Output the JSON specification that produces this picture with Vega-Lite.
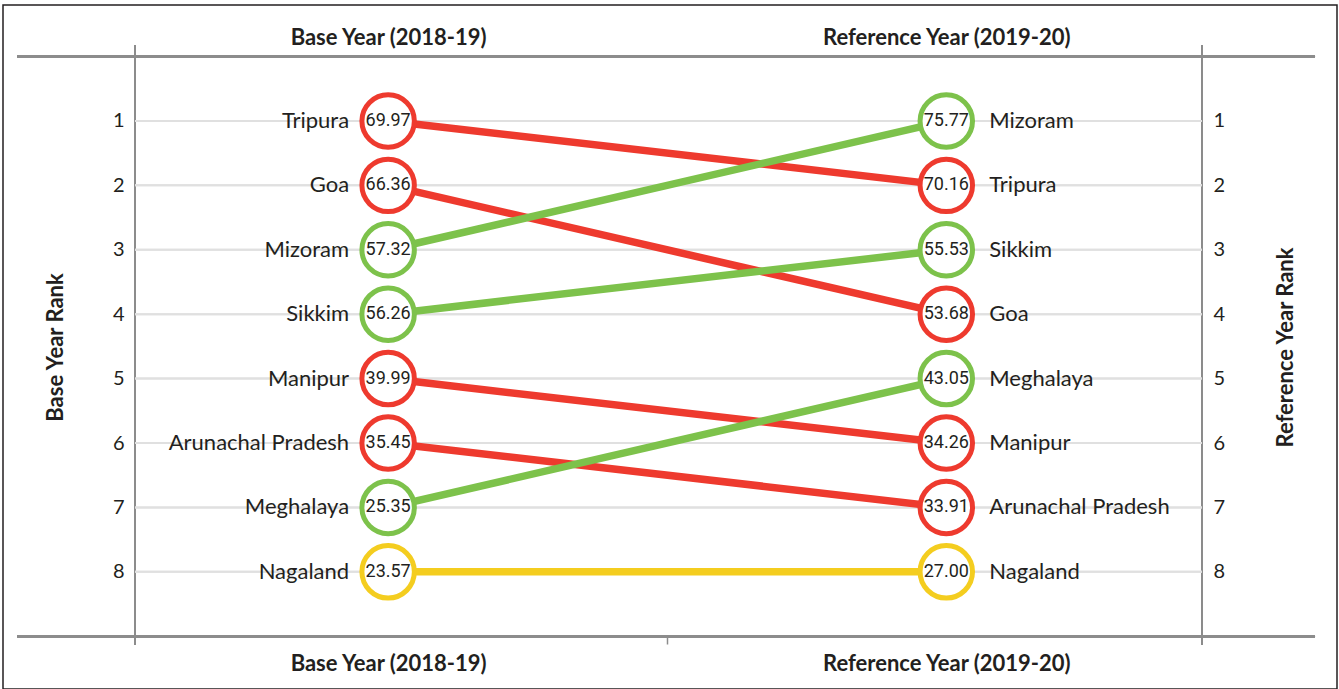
{
  "$schema": "https://vega.github.io/schema/vega-lite/v6.json",
  "width": 1334,
  "height": 684,
  "autosize": "none",
  "padding": {"left": 3, "top": 5, "right": 2, "bottom": 0},
  "background": "white",
  "config": {
    "view": {"stroke": "#231f20", "strokeWidth": 1.5},
    "font": "Lato"
  },
  "data": {
    "values": [
      {"state": "Tripura", "year": 2018, "rank": 1, "score": 69.97, "trend": "Declined"},
      {"state": "Goa", "year": 2018, "rank": 2, "score": 66.36, "trend": "Declined"},
      {"state": "Mizoram", "year": 2018, "rank": 3, "score": 57.32, "trend": "Improved"},
      {"state": "Sikkim", "year": 2018, "rank": 4, "score": 56.26, "trend": "Improved"},
      {"state": "Manipur", "year": 2018, "rank": 5, "score": 39.99, "trend": "Declined"},
      {"state": "Arunachal Pradesh", "year": 2018, "rank": 6, "score": 35.45, "trend": "Declined"},
      {"state": "Meghalaya", "year": 2018, "rank": 7, "score": 25.35, "trend": "Improved"},
      {"state": "Nagaland", "year": 2018, "rank": 8, "score": 23.57, "trend": "Unchanged"},
      {"state": "Mizoram", "year": 2019, "rank": 1, "score": 75.77, "trend": "Improved"},
      {"state": "Tripura", "year": 2019, "rank": 2, "score": 70.16, "trend": "Declined"},
      {"state": "Sikkim", "year": 2019, "rank": 3, "score": 55.53, "trend": "Improved"},
      {"state": "Goa", "year": 2019, "rank": 4, "score": 53.68, "trend": "Declined"},
      {"state": "Meghalaya", "year": 2019, "rank": 5, "score": 43.05, "trend": "Improved"},
      {"state": "Manipur", "year": 2019, "rank": 6, "score": 34.26, "trend": "Declined"},
      {"state": "Arunachal Pradesh", "year": 2019, "rank": 7, "score": 33.91, "trend": "Declined"},
      {"state": "Nagaland", "year": 2019, "rank": 8, "score": 27.00, "trend": "Unchanged"}
    ]
  },
  "resolve": {"axis": {"x": "independent", "y": "independent"}},
  "layer": [
    {
      "mark": {"type": "rule", "color": "#8c8c8c", "strokeWidth": 2},
      "encoding": {
        "x": {"datum": 2017.3351, "type": "quantitative", "scale": {"domain": [2017.31, 2019.70], "nice": false, "zero": false}, "axis": null},
        "x2": {"datum": 2019.6606},
        "y": {"datum": 0, "type": "quantitative", "scale": {"domain": [-0.8, 9.819], "reverse": true, "nice": false, "zero": false}, "axis": null}
      }
    },
    {
      "mark": {"type": "rule", "color": "#8c8c8c", "strokeWidth": 2},
      "encoding": {
        "x": {"datum": 2017.3351, "type": "quantitative", "scale": {"domain": [2017.31, 2019.70], "nice": false, "zero": false}, "axis": null},
        "x2": {"datum": 2019.6606},
        "y": {"datum": 9, "type": "quantitative", "scale": {"domain": [-0.8, 9.819], "reverse": true, "nice": false, "zero": false}, "axis": null}
      }
    },
    {
      "mark": {"type": "rule", "color": "#8c8c8c", "strokeWidth": 1.5},
      "encoding": {
        "x": {"datum": 2017.5465, "type": "quantitative", "scale": {"domain": [2017.31, 2019.70], "nice": false, "zero": false}, "axis": null},
        "y": {"datum": -0.179, "type": "quantitative", "scale": {"domain": [-0.8, 9.819], "reverse": true, "nice": false, "zero": false}, "axis": null},
        "y2": {"datum": 9.136}
      }
    },
    {
      "mark": {"type": "rule", "color": "#8c8c8c", "strokeWidth": 1.5},
      "encoding": {
        "x": {"datum": 2019.4581, "type": "quantitative", "scale": {"domain": [2017.31, 2019.70], "nice": false, "zero": false}, "axis": null},
        "y": {"datum": -0.179, "type": "quantitative", "scale": {"domain": [-0.8, 9.819], "reverse": true, "nice": false, "zero": false}, "axis": null},
        "y2": {"datum": 9.136}
      }
    },
    {
      "mark": {"type": "rule", "color": "#e0e0e0", "strokeWidth": 2},
      "encoding": {
        "x": {"datum": 2017.5465, "type": "quantitative", "scale": {"domain": [2017.31, 2019.70], "nice": false, "zero": false}, "axis": null},
        "x2": {"datum": 2019.4581},
        "y": {"field": "rank", "type": "quantitative", "scale": {"domain": [-0.8, 9.819], "reverse": true, "nice": false, "zero": false}, "axis": null}
      }
    },
    {
      "mark": {"type": "line", "strokeWidth": 7.5},
      "encoding": {
        "x": {
          "field": "year", "type": "quantitative",
          "scale": {"domain": [2017.31, 2019.70], "nice": false, "zero": false},
          "axis": {
            "orient": "bottom", "offset": -53, "values": [2018, 2018.5, 2019],
            "labelExpr": "datum.value == 2018 ? 'Base Year (2018-19)' : datum.value == 2019 ? 'Reference Year (2019-20)' : ''",
            "domain": false, "grid": false, "ticks": true, "tickSize": 8, "tickColor": "#8c8c8c", "tickWidth": 1.5,
            "tickOpacity": {"condition": {"test": "datum.value == 2018 || datum.value == 2019", "value": 0}, "value": 1},
            "labelFont": "Lato", "labelFontWeight": "bold", "labelFontSize": 22, "labelColor": "#231f20",
            "labelPadding": 9, "labelLimit": 0, "labelFlush": false, "labelOverlap": false, "title": null
          }
        },
        "y": {
          "field": "rank", "type": "quantitative",
          "scale": {"domain": [-0.8, 9.819], "reverse": true, "nice": false, "zero": false},
          "axis": {
            "orient": "left", "offset": -132, "values": [1, 2, 3, 4, 5, 6, 7, 8],
            "domain": false, "grid": false, "ticks": false, "labelPadding": 11,
            "labelFont": "Lato", "labelFontSize": 20, "labelColor": "#231f20",
            "title": "Base Year Rank", "titleFont": "Lato", "titleFontWeight": "bold", "titleFontSize": 22, "titleColor": "#231f20",
            "titleAngle": -90, "titleX": -80, "titleY": 342, "titleAlign": "center", "titleBaseline": "middle"
          }
        },
        "detail": {"field": "state"},
        "color": {"field": "trend", "type": "nominal", "scale": {"domain": ["Improved", "Declined", "Unchanged"], "range": ["#7dc24b", "#ee3a2e", "#f4cd1f"]}, "legend": null}
      }
    },
    {
      "mark": {"type": "point", "shape": "circle", "filled": false, "fill": "white", "fillOpacity": 1, "strokeWidth": 5, "size": 2750, "opacity": 1},
      "encoding": {
        "x": {
          "field": "year", "type": "quantitative",
          "scale": {"domain": [2017.31, 2019.70], "nice": false, "zero": false},
          "axis": {
            "orient": "top", "offset": -52, "values": [2018, 2019],
            "labelExpr": "datum.value == 2018 ? 'Base Year (2018-19)' : 'Reference Year (2019-20)'",
            "domain": false, "grid": false, "ticks": false,
            "labelFont": "Lato", "labelFontWeight": "bold", "labelFontSize": 22, "labelColor": "#231f20",
            "labelPadding": 8, "labelLimit": 0, "labelFlush": false, "labelOverlap": false, "title": null
          }
        },
        "y": {
          "field": "rank", "type": "quantitative",
          "scale": {"domain": [-0.8, 9.819], "reverse": true, "nice": false, "zero": false},
          "axis": {
            "orient": "right", "offset": -135, "values": [1, 2, 3, 4, 5, 6, 7, 8],
            "domain": false, "grid": false, "ticks": false, "labelPadding": 11,
            "labelFont": "Lato", "labelFontSize": 20, "labelColor": "#231f20",
            "title": "Reference Year Rank", "titleFont": "Lato", "titleFontWeight": "bold", "titleFontSize": 22, "titleColor": "#231f20",
            "titleAngle": -90, "titleX": 83, "titleY": 342, "titleAlign": "center", "titleBaseline": "middle"
          }
        },
        "color": {"field": "trend", "type": "nominal", "scale": {"domain": ["Improved", "Declined", "Unchanged"], "range": ["#7dc24b", "#ee3a2e", "#f4cd1f"]}, "legend": null}
      }
    },
    {
      "mark": {"type": "text", "font": "Roboto", "fontSize": 18, "color": "#231f20", "align": "center", "baseline": "middle"},
      "encoding": {
        "x": {"field": "year", "type": "quantitative", "scale": {"domain": [2017.31, 2019.70], "nice": false, "zero": false}, "axis": null},
        "y": {"field": "rank", "type": "quantitative", "scale": {"domain": [-0.8, 9.819], "reverse": true, "nice": false, "zero": false}, "axis": null},
        "text": {"field": "score", "type": "quantitative", "format": ".2f"}
      }
    },
    {
      "transform": [{"filter": "datum.year == 2018"}],
      "mark": {"type": "text", "font": "Lato", "fontSize": 22, "color": "#231f20", "align": "right", "baseline": "middle", "dx": -39},
      "encoding": {
        "x": {"field": "year", "type": "quantitative", "scale": {"domain": [2017.31, 2019.70], "nice": false, "zero": false}, "axis": null},
        "y": {"field": "rank", "type": "quantitative", "scale": {"domain": [-0.8, 9.819], "reverse": true, "nice": false, "zero": false}, "axis": null},
        "text": {"field": "state"}
      }
    },
    {
      "transform": [{"filter": "datum.year == 2019"}],
      "mark": {"type": "text", "font": "Lato", "fontSize": 22, "color": "#231f20", "align": "left", "baseline": "middle", "dx": 43},
      "encoding": {
        "x": {"field": "year", "type": "quantitative", "scale": {"domain": [2017.31, 2019.70], "nice": false, "zero": false}, "axis": null},
        "y": {"field": "rank", "type": "quantitative", "scale": {"domain": [-0.8, 9.819], "reverse": true, "nice": false, "zero": false}, "axis": null},
        "text": {"field": "state"}
      }
    }
  ]
}
